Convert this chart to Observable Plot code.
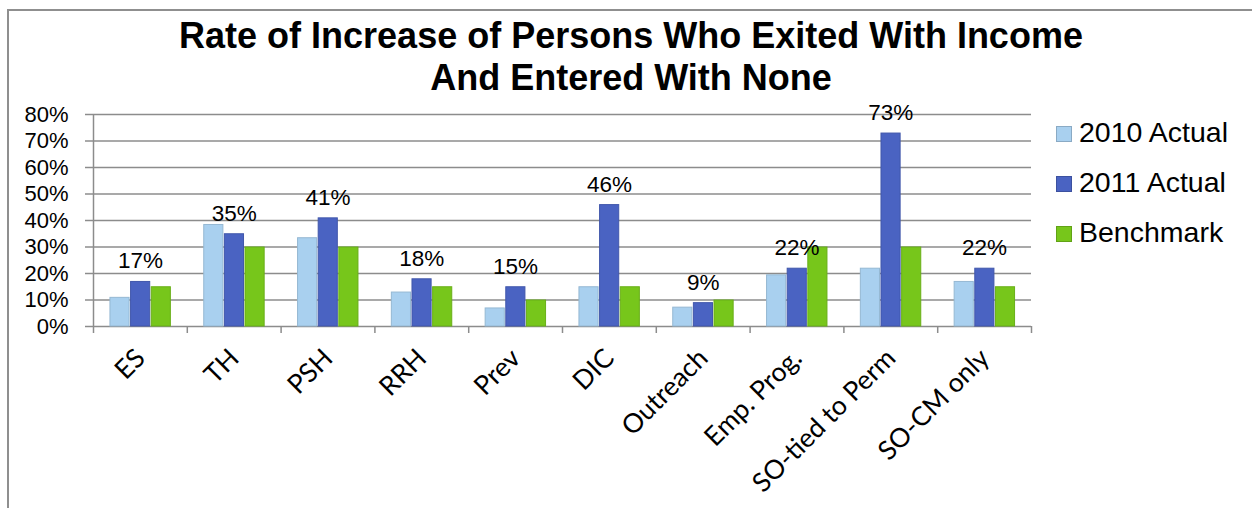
<!DOCTYPE html>
<html>
<head>
<meta charset="utf-8">
<script src="https://cdn.jsdelivr.net/npm/d3@7"></script>
<script src="https://cdn.jsdelivr.net/npm/@observablehq/plot@0.6"></script>
<style>
  html, body { margin: 0; padding: 0; background: #fff; overflow: hidden; }
  #page { position: relative; width: 1252px; height: 508px; overflow: hidden; }
  #border { position: absolute; left: 7px; top: 9px; width: 2000px; height: 2000px;
            border-left: 2px solid #8f8f8f; border-top: 2px solid #8f8f8f; }
  #title { position: absolute; left: 0; top: 15px; width: 1262px; text-align: center;
           font-family: "Liberation Sans", Arial, sans-serif; font-weight: bold;
           font-size: 36px; line-height: 42px; color: #000; }
  #chart { position: absolute; left: 0; top: 100px; }
  #legend { position: absolute; left: 1056px; top: 107px;
            font-family: "Liberation Sans", Arial, sans-serif; font-size: 28.5px; line-height: 50px; color: #000; }
  #legend .swatch { display: inline-block; width: 14px; height: 14px; margin-right: 7px;
                    vertical-align: baseline; border: 1px solid rgba(0,0,0,0.18); }
</style>
</head>
<body>
<div id="page">
  <div id="border"></div>
  <div id="title">Rate of Increase of Persons Who Exited With Income<br>And Entered With None</div>
  <div id="chart"></div>
  <div id="legend"></div>
</div>
<script>
// Program types along the x axis
const categories = ["ES", "TH", "PSH", "RRH", "Prev", "DIC", "Outreach", "Emp. Prog.", "SO-tied to Perm", "SO-CM only"];
const seriesNames = ["2010 Actual", "2011 Actual", "Benchmark"];
// Rate of increase per program type (share of persons)
const actual2010 = [0.11, 0.385, 0.335, 0.13, 0.07, 0.15, 0.073, 0.195, 0.22, 0.17];
const actual2011 = [0.17, 0.35, 0.41, 0.18, 0.15, 0.46, 0.09, 0.22, 0.73, 0.22];
const benchmark  = [0.15, 0.30, 0.30, 0.15, 0.10, 0.15, 0.10, 0.30, 0.30, 0.15];
const yTicks = [0, 0.1, 0.2, 0.3, 0.4, 0.5, 0.6, 0.7, 0.8];
const seriesColors = ["#a9d0ef", "#4a63c2", "#77c61b"];

const pct = d3.format(".0%");
const seriesValues = [actual2010, actual2011, benchmark];

// one row per bar
const rows = [];
categories.forEach((c, i) => {
  seriesNames.forEach((s, j) => rows.push({category: c, i, series: s, j, value: seriesValues[j][i]}));
});

// each category occupies one unit of x; the three bars fill the middle of it
const groupPad = 0.17;
const barW = (1 - 2 * groupPad) / seriesNames.length;
const gray = "#8c8c8c";
const edge = seriesColors.map(c => d3.color(c).darker(0.35).formatHex());

const chart = Plot.plot({
  width: 1252,
  height: 408,
  marginTop: 14,
  marginLeft: 93,
  marginRight: 221,
  marginBottom: 182,
  x: {domain: [0, categories.length], axis: null},
  y: {domain: [0, 0.8], axis: null},
  color: {domain: seriesNames, range: seriesColors},
  style: {fontFamily: "'Liberation Sans', Arial, sans-serif", fontSize: "22px", background: "transparent", overflow: "visible", color: "#000"},
  marks: [
    Plot.gridY({ticks: yTicks, stroke: gray, strokeOpacity: 1, strokeWidth: 1.5}),
    Plot.axisY({ticks: yTicks, tickSize: 8, tickPadding: 17, tickFormat: pct, stroke: gray, strokeWidth: 1.5, fontSize: 22, label: null}),
    Plot.axisX({ticks: d3.range(0, categories.length + 1), tickSize: 7, tickFormat: () => "", stroke: gray, strokeWidth: 1.5, label: null}),
    Plot.ruleX([0], {stroke: gray, strokeWidth: 1.5}),
    Plot.rectY(rows, {
      x1: d => d.i + groupPad + d.j * barW,
      x2: d => d.i + groupPad + (d.j + 1) * barW,
      y1: 0,
      y2: "value",
      fill: "series",
      stroke: d => edge[d.j],
      strokeWidth: 1,
      insetLeft: 1,
      insetRight: 0.5,
      insetTop: 0.5
    }),
    Plot.text(rows.filter(d => d.j === 1), {
      x: d => d.i + groupPad + 1.5 * barW,
      y: "value",
      text: d => pct(d.value),
      lineAnchor: "bottom",
      dy: -13,
      fontSize: 22.5,
      fill: "#000"
    }),
    Plot.text(categories, {
      x: (d, i) => i + 0.5,
      frameAnchor: "bottom",
      text: d => d,
      rotate: -45,
      textAnchor: "end",
      lineAnchor: "top",
      dx: -7,
      dy: 20,
      fontFamily: "Lato, 'Open Sans', sans-serif",
      fontSize: 26.5,
      fill: "#000"
    })
  ]
});
document.getElementById("chart").appendChild(chart);

// legend
const legend = d3.select("#legend");
seriesNames.forEach((s, j) => {
  const row = legend.append("div");
  row.append("span").attr("class", "swatch").style("background", seriesColors[j]);
  row.append("span").text(s);
});
</script>
</body>
</html>
